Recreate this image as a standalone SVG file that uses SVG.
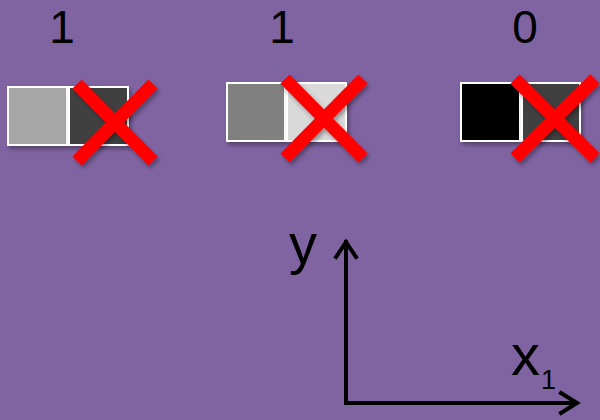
<svg xmlns="http://www.w3.org/2000/svg" width="600" height="420" viewBox="0 0 600 420">
<defs>
<filter id="sh" x="-30%" y="-30%" width="160%" height="160%">
<feDropShadow dx="2" dy="3" stdDeviation="2" flood-color="#000" flood-opacity="0.35"/>
</filter>
</defs>
<style>
.sq{stroke:#fff;stroke-width:2;filter:url(#sh)}
.x{stroke:#ff0000;stroke-width:13;fill:none;filter:url(#sh)}
.lbl{font-family:"Liberation Sans",Arial,sans-serif;fill:#000}
.ax{stroke:#000;stroke-width:4;fill:none;stroke-linecap:square;stroke-linejoin:miter}
</style>
<rect width="600" height="420" fill="#8064a2"/>
<g id="pair1">
<text class="lbl" x="62" y="43" font-size="46" text-anchor="middle">1</text>
<rect class="sq" x="8" y="87" width="59" height="58" fill="#a6a6a6"/>
<rect class="sq" x="69" y="87" width="59" height="58" fill="#404040"/>
<path class="x" d="M77,84 L153,161 M153,84 L77,161"/>
</g>
<g id="pair2">
<text class="lbl" x="282" y="43" font-size="46" text-anchor="middle">1</text>
<rect class="sq" x="227" y="83" width="58" height="58" fill="#808080"/>
<rect class="sq" x="287" y="83" width="59" height="58" fill="#d9d9d9"/>
<path class="x" d="M285,79 L363,158 M363,79 L285,158"/>
</g>
<g id="pair3">
<text class="lbl" x="525" y="43" font-size="46" text-anchor="middle">0</text>
<rect class="sq" x="461" y="83" width="59" height="58" fill="#000000"/>
<rect class="sq" x="522" y="83" width="58" height="58" fill="#404040"/>
<path class="x" d="M515,79 L595,158 M595,79 L515,158"/>
</g>
<g id="axes">
<path class="ax" d="M346,242 L346,403 L576,403"/>
<path class="ax" d="M336,257 L346,242 L356,257"/>
<path class="ax" d="M561,393 L577,403 L561,413"/>
<text class="lbl" x="289" y="263" font-size="56">y</text>
<text class="lbl" x="511" y="375" font-size="58">x</text>
<text class="lbl" x="541" y="389" font-size="27">1</text>
</g>
</svg>
